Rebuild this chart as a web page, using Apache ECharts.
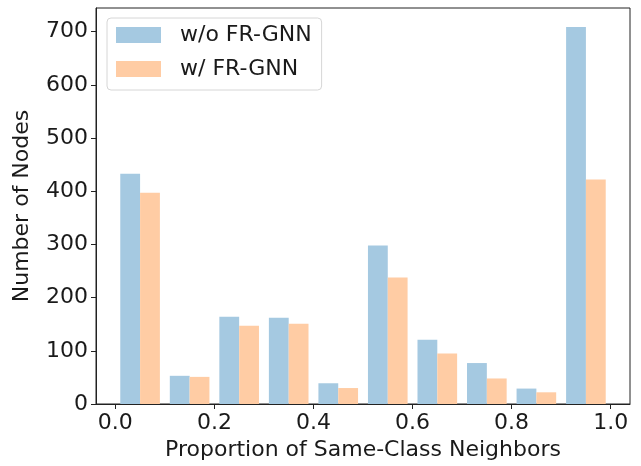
<!DOCTYPE html>
<html>
<head>
<meta charset="utf-8">
<script src="https://cdn.jsdelivr.net/npm/echarts@6/dist/echarts.min.js"></script>
<style>html,body{margin:0;padding:0;background:#fff}#c{width:641px;height:466px}</style>
</head>
<body>
<div id="c"></div>
<script>
// Histogram bins (left edges, width 0.1)
var binStarts = [0.0, 0.1, 0.2, 0.3, 0.4, 0.5, 0.6, 0.7, 0.8, 0.9];
var binWidth = 0.1;
var woFRGNN = [433, 53, 164, 162, 39, 298, 121, 77, 29, 709];
var wFRGNN  = [397, 51, 147, 151, 30, 238, 95, 48, 22, 422];
var xTicks = [0.0, 0.2, 0.4, 0.6, 0.8, 1.0];
var yTicks = [0, 100, 200, 300, 400, 500, 600, 700];
var seriesNames = ['w/o FR-GNN', 'w/ FR-GNN'];

var FONT = 'DejaVu Sans';
var FS = 22;
var chart = echarts.init(document.getElementById('c'), null, {renderer: 'canvas'});

function makeData(vals) {
  return binStarts.map(function (s, i) { return [s, vals[i]]; });
}
function renderer(slot) {
  return function (params, api) {
    var start = api.value(0);
    // matplotlib side-by-side: total 0.8 of bin, each 0.4, centered
    var x0 = start + binWidth * (0.1 + 0.4 * slot);
    var x1 = x0 + binWidth * 0.4;
    var p0 = api.coord([x0, 0]);
    var p1 = api.coord([x1, api.value(1)]);
    return {
      type: 'rect',
      shape: {x: p0[0], y: p1[1], width: p1[0] - p0[0], height: p0[1] - p1[1]},
      style: {fill: api.visual('color')}
    };
  };
}

var option = {
  animation: false,
  backgroundColor: '#fff',
  textStyle: {fontFamily: FONT},
  grid: {left: 96, right: 11, top: 8, bottom: 61, show: true, borderColor: '#222', borderWidth: 1, backgroundColor: 'transparent'},
  legend: {
    left: 107, top: 18, orient: 'vertical',
    data: seriesNames,
    itemWidth: 45, itemHeight: 16, itemGap: 12,
    padding: [6, 10, 10, 9],
    borderColor: '#d6d6d6', borderWidth: 1, borderRadius: 4,
    backgroundColor: 'rgba(255,255,255,0.8)',
    textStyle: {fontFamily: FONT, fontSize: FS, lineHeight: 22, color: '#1a1a1a', padding: [0, 0, 0, 14]},
    icon: 'rect'
  },
  xAxis: {
    type: 'value', min: -0.039, max: 1.039,
    name: 'Proportion of Same-Class Neighbors', nameLocation: 'middle', nameGap: 35,
    nameTextStyle: {fontFamily: FONT, fontSize: FS, color: '#1a1a1a'},
    axisLine: {show: true, onZero: false, lineStyle: {color: '#222', width: 1}},
    axisTick: {show: true, length: 5, inside: false, customValues: xTicks, lineStyle: {color: '#222'}},
    axisLabel: {customValues: xTicks, fontFamily: FONT, fontSize: FS, color: '#1a1a1a', margin: 8,
      formatter: function (v) { return v.toFixed(1); }},
    splitLine: {show: false}
  },
  yAxis: {
    type: 'value', min: 0, max: 744.5,
    name: 'Number of Nodes', nameLocation: 'middle', nameGap: 63,
    nameTextStyle: {fontFamily: FONT, fontSize: FS, color: '#1a1a1a'},
    axisLine: {show: true, onZero: false, lineStyle: {color: '#222', width: 1}},
    axisTick: {show: true, length: 5, inside: false, customValues: yTicks, lineStyle: {color: '#222'}},
    axisLabel: {customValues: yTicks, fontFamily: FONT, fontSize: FS, color: '#1a1a1a', margin: 8},
    splitLine: {show: false}
  },
  series: [
    {name: seriesNames[0], type: 'custom', renderItem: renderer(0), data: makeData(woFRGNN),
      encode: {x: 0, y: 1}, itemStyle: {color: '#a5c9e1'}},
    {name: seriesNames[1], type: 'custom', renderItem: renderer(1), data: makeData(wFRGNN),
      encode: {x: 0, y: 1}, itemStyle: {color: '#ffcca4'}}
  ]
};
chart.setOption(option);
</script>
</body>
</html>
